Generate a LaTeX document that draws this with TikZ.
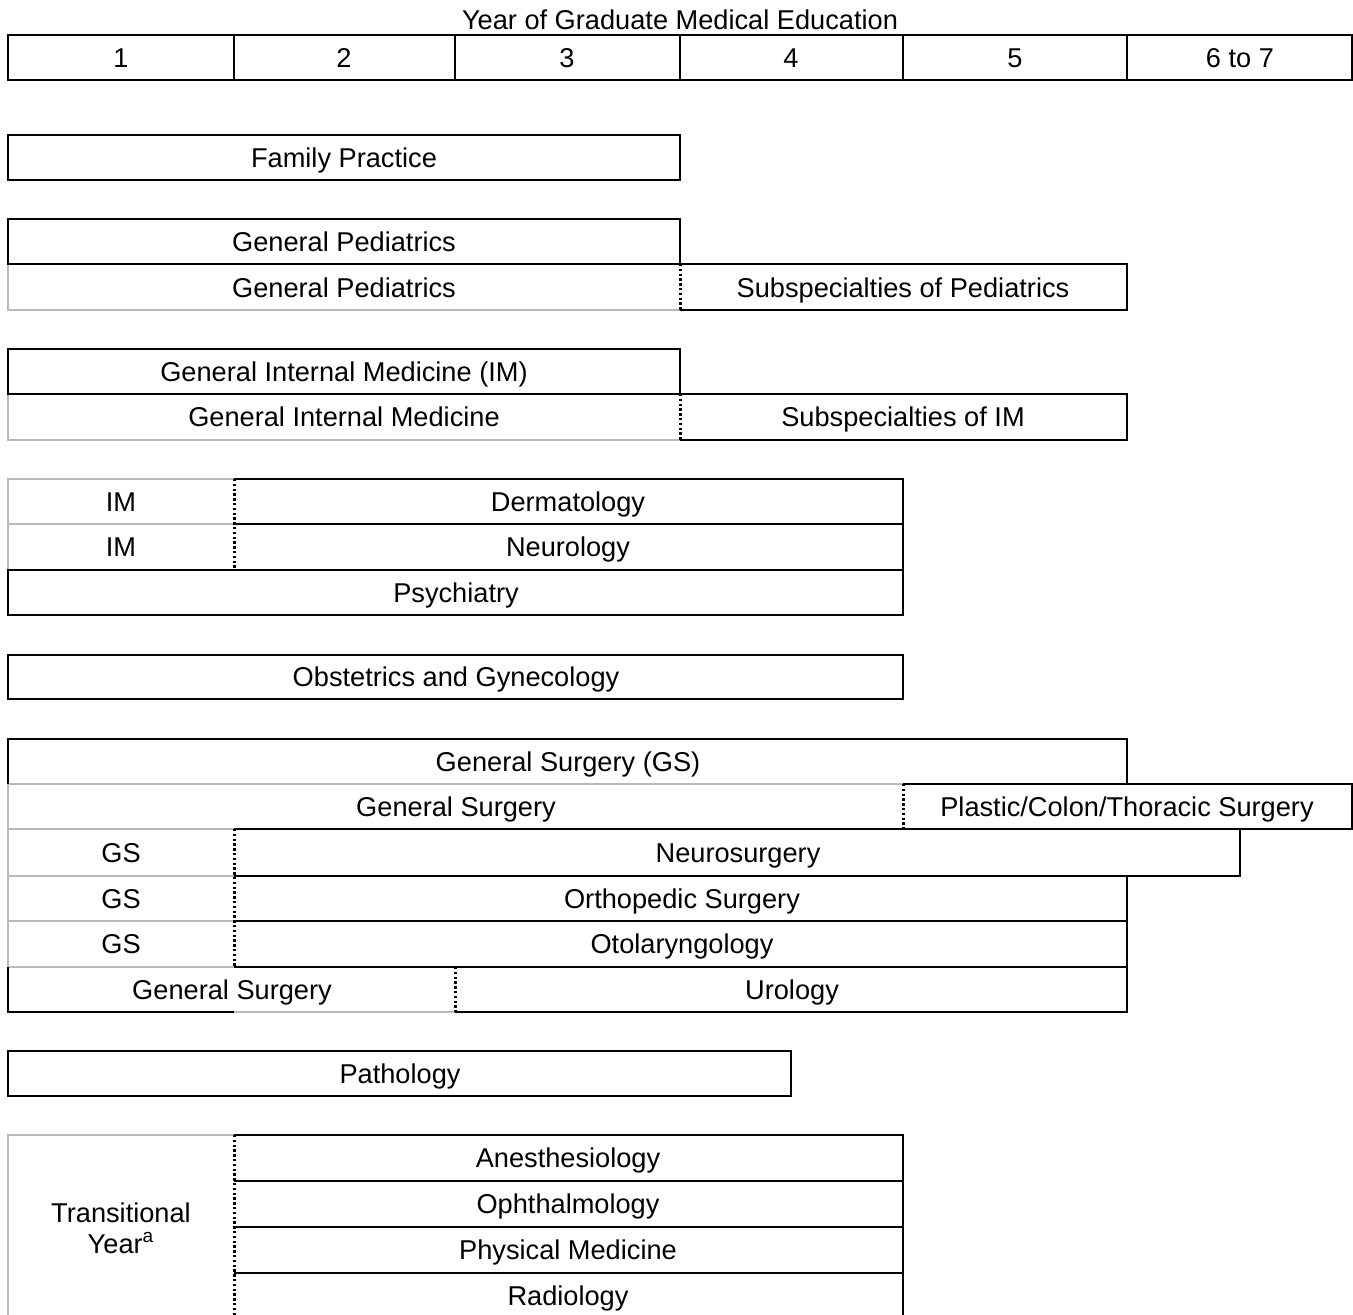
\documentclass[tikz,border=0pt]{standalone}
\usepackage{fontspec}
\setmainfont{Liberation Sans}
\tikzset{
  lbl/.style={font=\fontsize{13.6}{13.6}\selectfont, inner sep=0pt, text height=9.7pt, text depth=0pt},
  frame/.style={line width=0.7pt},
  pre/.style={gray!55, line width=0.7pt},
  split/.style={line width=1.5pt, dash pattern=on 1.2pt off 1.2pt}
}
\begin{document}
\begin{tikzpicture}[x=0.5pt,y=-0.5pt]
\useasboundingbox (0,0) rectangle (1353,1315);
\draw[pre] (8,264) -- (8,310) -- (680,310);
\draw[pre] (8,394) -- (8,440) -- (680,440);
\draw[pre] (234,479) -- (8,479) -- (8,570);
\draw[pre] (8,524) -- (234,524);
\draw[pre] (8,784) -- (8,967);
\draw[pre] (8,784) -- (903,784);
\draw[pre] (8,829) -- (903,829);
\draw[pre] (8,876) -- (234,876);
\draw[pre] (8,921) -- (234,921);
\draw[pre] (8,967) -- (234,967);
\draw[pre] (234,1012) -- (455,1012);
\draw[pre] (234,1135) -- (8,1135) -- (8,1318);
\draw[frame] (8,35) rectangle (1352,80);
\draw[frame] (234,35) -- (234,80);
\draw[frame] (455,35) -- (455,80);
\draw[frame] (680,35) -- (680,80);
\draw[frame] (903,35) -- (903,80);
\draw[frame] (1127,35) -- (1127,80);
\draw[frame] (8,135) rectangle (680,180);
\draw[frame] (8,219) rectangle (680,264);
\draw[frame] (680,264) -- (1127,264) -- (1127,310) -- (680,310);
\draw[frame] (8,349) rectangle (680,394);
\draw[frame] (680,394) -- (1127,394) -- (1127,440) -- (680,440);
\draw[frame] (234,479) -- (903,479) -- (903,570) -- (234,570);
\draw[frame] (234,524) -- (903,524);
\draw[frame] (8,570) rectangle (903,615);
\draw[frame] (8,655) rectangle (903,699);
\draw[frame] (8,784) -- (8,739) -- (1127,739) -- (1127,784);
\draw[frame] (903,784) -- (1352,784) -- (1352,829) -- (903,829);
\draw[frame] (234,829) -- (1240,829) -- (1240,876) -- (234,876);
\draw[frame] (234,876) -- (1127,876) -- (1127,967) -- (234,967);
\draw[frame] (234,921) -- (1127,921);
\draw[frame] (455,967) -- (1127,967) -- (1127,1012) -- (455,1012);
\draw[frame] (234,967) -- (455,967);
\draw[frame] (8,967) -- (8,1012) -- (234,1012);
\draw[frame] (8,1051) rectangle (791,1096);
\draw[frame] (234,1135) -- (903,1135) -- (903,1318) -- (234,1318);
\draw[frame] (234,1181) -- (903,1181);
\draw[frame] (234,1227) -- (903,1227);
\draw[frame] (234,1273) -- (903,1273);
\draw[split] (680,264) -- (680,310);
\draw[split] (680,394) -- (680,440);
\draw[split] (234,479) -- (234,570);
\draw[split] (903,784) -- (903,829);
\draw[split] (234,829) -- (234,967);
\draw[split] (455,967) -- (455,1012);
\draw[split] (234,1135) -- (234,1318);
\node[lbl] (title) at (680,20) {Year of Graduate Medical Education};
\node[lbl] (y1) at (121,58) {1};
\node[lbl] (y2) at (344,58) {2};
\node[lbl] (y3) at (567,58) {3};
\node[lbl] (y4) at (791,58) {4};
\node[lbl] (y5) at (1015,58) {5};
\node[lbl] (y6) at (1240,58) {6 to 7};
\node[lbl] (fp) at (344,158) {Family Practice};
\node[lbl] (pedA) at (344,242) {General Pediatrics};
\node[lbl] (pedB) at (344,288) {General Pediatrics};
\node[lbl] (pedSub) at (903,288) {Subspecialties of Pediatrics};
\node[lbl] (imA) at (344,372) {General Internal Medicine (IM)};
\node[lbl] (imB) at (344,417) {General Internal Medicine};
\node[lbl] (imSub) at (903,417) {Subspecialties of IM};
\node[lbl] (im1) at (121,502) {IM};
\node[lbl] (derm) at (568,502) {Dermatology};
\node[lbl] (im2) at (121,547) {IM};
\node[lbl] (neuro) at (568,547) {Neurology};
\node[lbl] (psych) at (456,593) {Psychiatry};
\node[lbl] (obgyn) at (456,677) {Obstetrics and Gynecology};
\node[lbl] (gsA) at (568,762) {General Surgery (GS)};
\node[lbl] (gsB) at (456,807) {General Surgery};
\node[lbl] (plastic) at (1127,807) {Plastic/Colon/Thoracic Surgery};
\node[lbl] (gs1) at (121,853) {GS};
\node[lbl] (nsurg) at (738,853) {Neurosurgery};
\node[lbl] (gs2) at (121,899) {GS};
\node[lbl] (ortho) at (682,899) {Orthopedic Surgery};
\node[lbl] (gs3) at (121,944) {GS};
\node[lbl] (ent) at (682,944) {Otolaryngology};
\node[lbl] (gs4) at (232,990) {General Surgery};
\node[lbl] (uro) at (792,990) {Urology};
\node[lbl] (path) at (400,1074) {Pathology};
\node[lbl, align=center, text height=, text depth=, font=\fontsize{13.6}{15.5}\selectfont] (ty) at (121,1228) {Transitional\\Year\textsuperscript{a}};
\node[lbl] (anes) at (568,1158) {Anesthesiology};
\node[lbl] (ophth) at (568,1204) {Ophthalmology};
\node[lbl] (pmr) at (568,1250) {Physical Medicine};
\node[lbl] (rad) at (568,1296) {Radiology};
\end{tikzpicture}
\end{document}
